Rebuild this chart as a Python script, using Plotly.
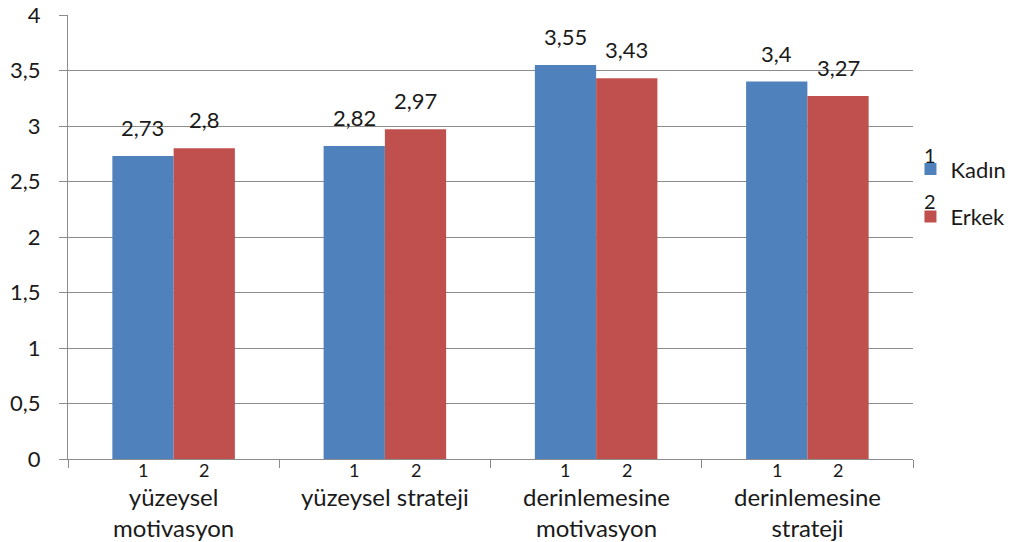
import plotly.graph_objects as go

categories = ["yüzeysel<br>motivasyon", "yüzeysel strateji", "derinlemesine<br>motivasyon", "derinlemesine<br>strateji"]
kadin = [2.73, 2.82, 3.55, 3.40]
erkek = [2.80, 2.97, 3.43, 3.27]
series_names = ["Kadın", "Erkek"]
sub_labels = ["1", "2"]
colors = ["#4F81BD", "#C0504D"]

FONT = "Lato, Open Sans, sans-serif"
TXT = "#1a1a1a"
GRID = "#8c8c8c"
BARGAP = 0.42

def fmt(v):
    s = f"{v:.2f}".rstrip("0").rstrip(".")
    return s.replace(".", ",")

x = list(range(len(categories)))
fig = go.Figure()
for k, (name, vals, col) in enumerate(zip(series_names, [kadin, erkek], colors)):
    fig.add_trace(go.Bar(x=x, y=vals, name=name, legendgroup=f"g{k}",
                         marker=dict(color=col, line=dict(width=0))))

ann = []
half = (1 - BARGAP) / 4  # offset of each bar centre from its category centre
for i in x:
    for j, (vals, lab) in enumerate(zip([kadin, erkek], sub_labels)):
        xc = i + (-half if j == 0 else half)
        ann.append(dict(x=xc, y=vals[i], text=fmt(vals[i]), showarrow=False,
                        yanchor="bottom", yshift=13, font=dict(size=22, color=TXT, family=FONT)))
        ann.append(dict(x=xc, y=0, text=lab, showarrow=False, yanchor="top", yshift=2,
                        font=dict(size=18, color=TXT, family=FONT)))
    ann.append(dict(x=i, y=0, text=categories[i], showarrow=False, yanchor="top", yshift=-21,
                    font=dict(size=24, color=TXT, family=FONT)))

# small numbers above the legend swatches
for k, lab in enumerate(sub_labels):
    ann.append(dict(xref="paper", yref="paper", x=0.0205 + 1, y=(459 - 155 - k * 46) / 444, text=lab,
                    xanchor="center", yanchor="middle", showarrow=False,
                    font=dict(size=20, color=TXT, family=FONT)))

fig.update_layout(
    width=1012, height=542,
    margin=dict(l=68, r=99, t=15, b=83, autoexpand=False),
    paper_bgcolor="white", plot_bgcolor="white",
    separators=",.",
    barmode="group", bargap=BARGAP, bargroupgap=0,
    font=dict(family=FONT, color=TXT, size=22),
    showlegend=True,
    legend=dict(x=0.997, y=0.70, xanchor="left", yanchor="top",
                font=dict(size=22, family=FONT, color=TXT),
                itemwidth=30, tracegroupgap=16, bgcolor="rgba(0,0,0,0)"),
    annotations=ann,
)
fig.update_xaxes(range=[-0.5, 3.5], tickvals=[-0.5, 0.5, 1.5, 2.5, 3.5], ticktext=[""] * 5,
                 ticks="outside", ticklen=8, tickcolor=GRID, showgrid=False,
                 showline=True, linecolor=GRID, linewidth=1, zeroline=False)
fig.update_yaxes(range=[0, 4], dtick=0.5, ticks="outside", ticklen=8, tickcolor=GRID,
                 showgrid=True, gridcolor=GRID, gridwidth=1, showline=True, linecolor=GRID,
                 zeroline=False, tickfont=dict(size=22, family=FONT, color=TXT), ticklabelstandoff=14)

fig.write_html("out.html")
